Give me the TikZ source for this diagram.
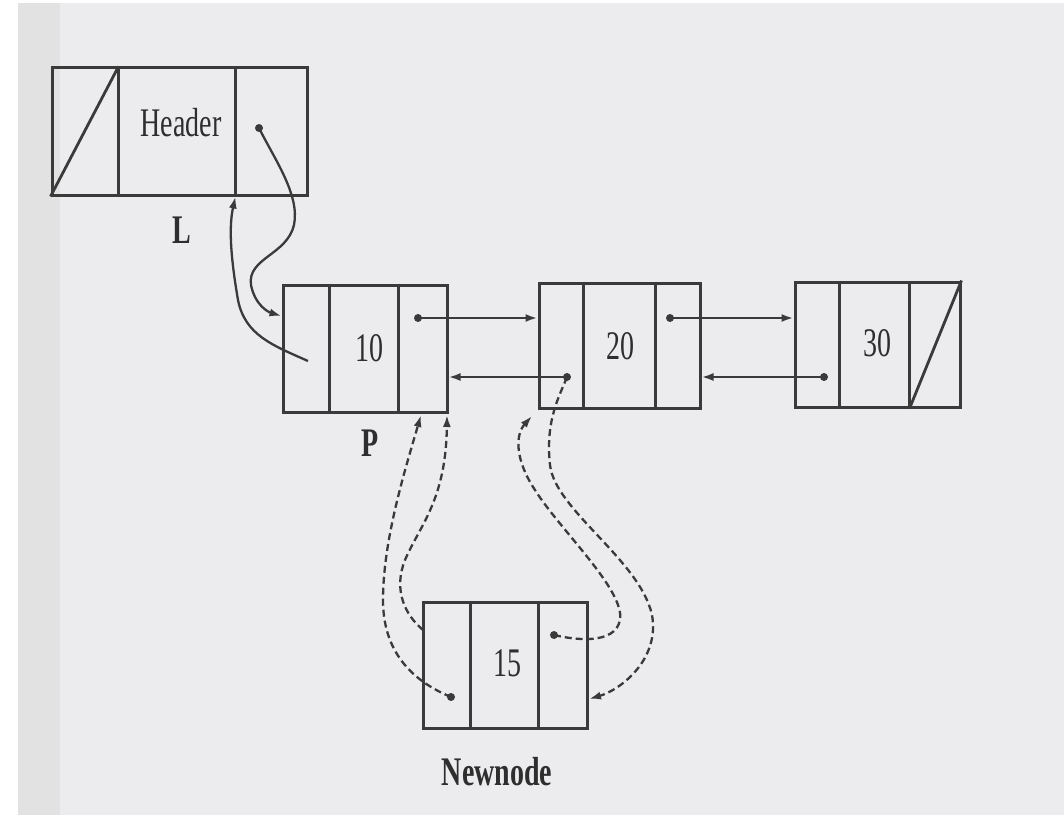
\documentclass[tikz,border=0pt]{standalone}
\usepackage{fontspec}
\usepackage{graphicx}
\setmainfont{Liberation Serif}
\usetikzlibrary{arrows.meta,calc}
\definecolor{paper}{HTML}{ECECEF}
\definecolor{band}{HTML}{E2E2E3}
\definecolor{ink}{HTML}{3A3A3A}
\definecolor{txt}{HTML}{2E2E2E}
\tikzset{
  cellbox/.style={draw=ink,line width=3pt,rectangle,inner sep=0pt},
  divider/.style={draw=ink,line width=2.8pt},
  link/.style={draw=ink,line width=2.3pt,-{Latex[length=12pt,width=8pt]}},
  dlink/.style={link,dash pattern=on 7pt off 4pt},
  lbl/.style={text=txt,inner sep=0pt,font=\fontsize{28}{32}\selectfont},
  blbl/.style={lbl,font=\fontsize{28}{32}\selectfont\bfseries},
  ptr/.style={fill=ink}
}
\newcommand{\tall}[1]{\scalebox{1}[1.45]{#1}}
\begin{document}
\begin{tikzpicture}[x=1pt,y=-1pt]
\useasboundingbox (0,0) rectangle (1064,821);
\fill[white] (0,0) rectangle (1064,821);
\fill[paper] (18,3) rectangle (1064,815);
\fill[band] (18,3) rectangle (60,815);

% boxes
\node[cellbox,minimum width=255pt,minimum height=127pt] (hdr) at (179.5,131.5) {};
\node[cellbox,minimum width=164pt,minimum height=127pt] (n10) at (365,348.5) {};
\node[cellbox,minimum width=161pt,minimum height=125pt] (n20) at (619.5,345.5) {};
\node[cellbox,minimum width=165pt,minimum height=125pt] (n30) at (877.5,344.5) {};
\node[cellbox,minimum width=164pt,minimum height=126pt] (n15) at (505,665) {};

% dividers
\draw[divider] ($(hdr.north west)+(68,0)$) coordinate (h1) -- ($(hdr.south west)+(68,0)$);
\draw[divider] ($(hdr.north west)+(185,0)$) -- ($(hdr.south west)+(185,0)$) coordinate (h2);
\draw[divider] (hdr.south west) -- (h1);
\draw[divider] ($(n10.north west)+(48,0)$) -- ($(n10.south west)+(48,0)$);
\draw[divider] ($(n10.north west)+(117,0)$) -- ($(n10.south west)+(117,0)$);
\draw[divider] ($(n20.north west)+(46,0)$) -- ($(n20.south west)+(46,0)$);
\draw[divider] ($(n20.north west)+(118,0)$) -- ($(n20.south west)+(118,0)$);
\draw[divider] ($(n30.north west)+(46,0)$) -- ($(n30.south west)+(46,0)$);
\draw[divider] ($(n30.north west)+(116,0)$) coordinate (t1) -- ($(n30.south west)+(116,0)$) coordinate (t2);
\draw[divider] (t2) -- (n30.north east);
\draw[divider] ($(n15.north west)+(49,0)$) -- ($(n15.south west)+(49,0)$);
\draw[divider] ($(n15.north west)+(117,0)$) -- ($(n15.south west)+(117,0)$);

% texts
\node[lbl] (thdr) at (181,123) {\tall{Header}};
\node[lbl] (t10) at (369,348) {\tall{10}};
\node[lbl] (t20) at (620,346) {\tall{20}};
\node[lbl] (t30) at (877,343) {\tall{30}};
\node[lbl] (t15) at (507,663) {\tall{15}};
\node[blbl] (tL) at (182,230) {\tall{L}};
\node[blbl] (tP) at (370,443) {\tall{P}};
\node[blbl] (tnew) at (497,772) {\tall{Newnode}};

% pointer dots
\coordinate (dh) at (259,128);
\coordinate (d10) at (418,318);
\coordinate (d20n) at (670,318);
\coordinate (d20p) at (567,377);
\coordinate (d30p) at (824,377);
\coordinate (d15p) at (451,697);
\coordinate (d15n) at (554,635);
\coordinate (s10) at (308,361);
\coordinate (s15) at (423,630);
\foreach \d in {dh,d10,d20n,d20p,d30p,d15p,d15n} \fill[ptr] (\d) circle (4pt);

% solid links
\draw[link] (dh) .. controls (275,160) and (300,195) .. (294,225)
  .. controls (287,255) and (247,258) .. (251,285)
  .. controls (255,305) and (268,312) .. (n10.west |- 0,316);
\draw[link] (s10) .. controls (272,345) and (245,335) .. (238,300)
  .. controls (232,265) and (228,230) .. (hdr.south -| h2);
\draw[link] (d10) -- (n20.west |- d10);
\draw[link] (d20p) -- (n10.east |- d20p);
\draw[link] (d20n) -- (n30.west |- d20n);
\draw[link] (d30p) -- (n20.east |- d30p);

% dashed links
\draw[dlink] (d15p) .. controls (410,680) and (383,650) .. (383,600)
  .. controls (383,540) and (405,470) .. (421,415);
\draw[dlink] (s15) .. controls (405,615) and (393,590) .. (405,560)
  .. controls (420,525) and (446,500) .. (447,415);
\draw[dlink] (d20p) .. controls (560,395) and (545,420) .. (550,465)
  .. controls (555,510) and (640,560) .. (652,615)
  .. controls (660,660) and (620,690) .. (589,699);
\draw[dlink] (d15n) .. controls (575,640) and (615,645) .. (620,620)
  .. controls (625,590) and (560,530) .. (535,490)
  .. controls (515,460) and (515,435) .. (532,416);
\end{tikzpicture}
\end{document}
